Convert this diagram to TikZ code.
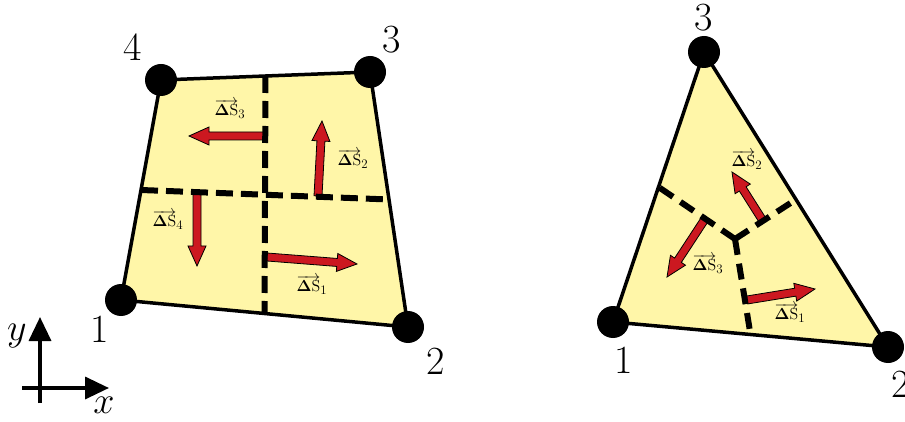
\RequirePackage{fix-cm}
\documentclass[tikz,border=0pt]{standalone}
\usetikzlibrary{calc,arrows.meta}
\definecolor{fillyellow}{RGB}{255,246,168}
\definecolor{arrred}{RGB}{204,24,32}
\tikzset{
 elemfill/.style={fill=fillyellow},
 elemedge/.style={draw=black, line width=3.5pt, line join=miter},
 vertex/.style={circle, fill=black, inner sep=0pt, minimum size=32pt},
 vlabel/.style={font=\fontsize{40}{40}\selectfont, inner sep=0pt},
 dual/.style={draw=black, line width=6pt, dash pattern=on 17pt off 8pt},
 dualtri/.style={draw=black, line width=6pt, dash pattern=on 16pt off 9pt},
 fatarr/.style={fill=arrred, draw=black, line width=0.8pt, line join=miter},
 dslabel/.style={font=\fontsize{16}{16}\selectfont, inner sep=0pt},
 axisline/.style={line width=3.5pt, -{Triangle[width=22pt,length=24pt]}},
 axlabel/.style={font=\fontsize{38}{38}\selectfont, inner sep=0pt},
}
\newcommand{\fatarrow}[2]{%
 \draw[fatarr] let \p1=(#1), \p2=(#2), \n1={atan2(\y2-\y1,\x2-\x1)}, \n2={veclen(\x2-\x1,\y2-\y1)-20} in
 ($(\p1)+(\n1+90:4pt)$) -- ($(\p1)+(\n1:\n2)+(\n1+90:4pt)$) -- ($(\p1)+(\n1:\n2)+(\n1+90:9pt)$) -- (\p2) -- ($(\p1)+(\n1:\n2)+(\n1-90:9pt)$) -- ($(\p1)+(\n1:\n2)+(\n1-90:4pt)$) -- ($(\p1)+(\n1-90:4pt)$) -- cycle;}
\newcommand{\dslab}[1]{$\overrightarrow{\mathbf{\Delta}\mathrm{S}}_{\mbox{\fontsize{13}{13}\selectfont #1}}$}
\begin{document}
\begin{tikzpicture}[x=1pt,y=-1pt]
\useasboundingbox (0,0) rectangle (905,422);
% quadrilateral
\coordinate (q1) at (121,300);
\coordinate (q2) at (408,327);
\coordinate (q3) at (370,72);
\coordinate (q4) at (161,80);
\coordinate (m14) at ($(q1)!0.5!(q4)$);
\coordinate (m23) at ($(q2)!0.5!(q3)$);
\coordinate (m43) at ($(q4)!0.5!(q3)$);
\coordinate (m12) at ($(q1)!0.5!(q2)$);
\path[elemfill] (q1) -- (q2) -- (q3) -- (q4) -- cycle;
% arrows quad
\coordinate (a1s) at (267,257); \coordinate (a1e) at (357,264);
\coordinate (a2s) at (318,196); \coordinate (a2e) at (322,121);
\coordinate (a3s) at (266,136); \coordinate (a3e) at (189,136);
\coordinate (a4s) at (197,192); \coordinate (a4e) at (197,266);
\fatarrow{a1s}{a1e}
\fatarrow{a2s}{a2e}
\fatarrow{a3s}{a3e}
\fatarrow{a4s}{a4e}
\draw[dual] (m43) -- (m12);
\draw[dual] (m14) -- (m23);
\draw[elemedge] (q1) -- (q2) -- (q3) -- (q4) -- cycle;
\node[vertex] (v1) at (q1) {};
\node[vertex] (v2) at (q2) {};
\node[vertex] (v3) at (q3) {};
\node[vertex] (v4) at (q4) {};
\node[vlabel] (l1) at (100,329) {1};
\node[vlabel] (l2) at (436,361) {2};
\node[vlabel] (l3) at (392,40) {3};
\node[vlabel] (l4) at (133,47) {4};
\node[dslabel] (s1) at (312,285) {\dslab{1}};
\node[dslabel] (s2) at (353,159) {\dslab{2}};
\node[dslabel] (s3) at (230,109) {\dslab{3}};
\node[dslabel] (s4) at (168,220) {\dslab{4}};
% triangle
\coordinate (t1) at (613,322);
\coordinate (t2) at (888,347);
\coordinate (t3) at (704,52);
\coordinate (tc) at (735,239);
\coordinate (tm13) at ($(t1)!0.5!(t3)$);
\coordinate (tm23) at ($(t2)!0.5!(t3)$);
\coordinate (tm12) at ($(t1)!0.5!(t2)$);
\path[elemfill] (t1) -- (t2) -- (t3) -- cycle;
\coordinate (b1s) at (747,300); \coordinate (b1e) at (815,289);
\coordinate (b2s) at (763,221); \coordinate (b2e) at (732,172);
\coordinate (b3s) at (705,219); \coordinate (b3e) at (667,277);
\fatarrow{b1s}{b1e}
\fatarrow{b2s}{b2e}
\fatarrow{b3s}{b3e}
\draw[dualtri] (tc) -- (tm13);
\draw[dualtri] (tc) -- (tm23);
\draw[dualtri] (tc) -- (tm12);
\draw[elemedge] (t1) -- (t2) -- (t3) -- cycle;
\node[vertex] (w1) at (t1) {};
\node[vertex] (w2) at (t2) {};
\node[vertex] (w3) at (t3) {};
\node[vlabel] (k1) at (624,360) {1};
\node[vlabel] (k2) at (901,384) {2};
\node[vlabel] (k3) at (704,18) {3};
\node[dslabel] (r1) at (790,313) {\dslab{1}};
\node[dslabel] (r2) at (747,160) {\dslab{2}};
\node[dslabel] (r3) at (708,264) {\dslab{3}};
% axes
\coordinate (ax0) at (40,403);
\coordinate (axy) at (40,317);
\coordinate (ax1) at (22,388);
\coordinate (axx) at (109,388);
\draw[axisline] (ax0) -- (axy);
\draw[axisline] (ax1) -- (axx);
\node[axlabel] (ly) at (17,336) {$y$};
\node[axlabel] (lx) at (104,405) {$x$};
\end{tikzpicture}
\end{document}
